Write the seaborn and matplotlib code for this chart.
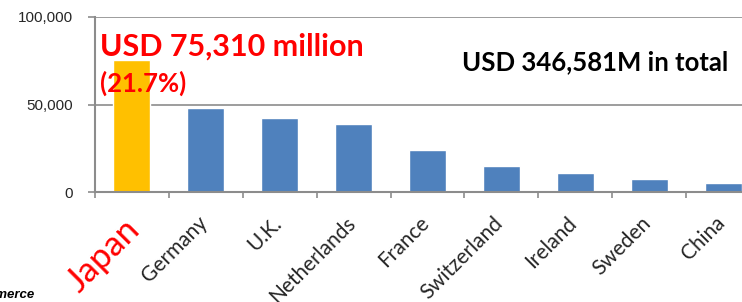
import matplotlib
matplotlib.use("Agg")
import matplotlib.pyplot as plt
import matplotlib.transforms as mtransforms
import pandas as pd
import seaborn as sns

countries = ["Japan", "Germany", "U.K.", "Netherlands", "France",
             "Switzerland", "Ireland", "Sweden", "China"]
values = [75310, 48100, 42300, 38800, 24200, 14900, 10700, 7200, 4900]
bar_colors = ["#FFC000"] + ["#4F81BD"] * 8
y_ticks = [0, 50000, 100000]
y_tick_labels = ["0", "50,000", "100,000"]

df = pd.DataFrame({"country": countries, "value": values})

sns.set_theme(style="white")
plt.rcParams["font.family"] = ["Lato", "DejaVu Sans"]

fig = plt.figure(figsize=(7.42, 3.02), dpi=100)
# axes runs past the right edge like the original screenshot
ax = fig.add_axes([95 / 742, 1 - 192 / 302, 665 / 742, 175 / 302])

sns.barplot(data=df, x="country", y="value", hue="country",
            palette=bar_colors, width=0.5, legend=False, ax=ax, saturation=1)

ax.set_ylim(0, 100000)
ax.set_xlim(-0.5, len(countries) - 0.5)
ax.set_yticks(y_ticks)
ax.set_yticklabels(y_tick_labels, fontsize=11, family=["Liberation Sans", "DejaVu Sans"])
ax.yaxis.grid(True, color="#8c8c8c", linewidth=1.2)
ax.set_axisbelow(True)
ax.set_xlabel("")
ax.set_ylabel("")

for s in ["top", "right"]:
    ax.spines[s].set_visible(False)
for s in ["left", "bottom"]:
    ax.spines[s].set_color("#8c8c8c")
    ax.spines[s].set_linewidth(1.5)

ax.tick_params(axis="y", left=True, length=5, color="#8c8c8c", width=1.2, pad=11)
# category boundary ticks on the x axis
ax.set_xticks([i - 0.5 for i in range(len(countries))], minor=True)
ax.tick_params(axis="x", which="minor", bottom=True, length=4, color="#8c8c8c", width=1.2)
ax.tick_params(axis="x", which="major", bottom=False, pad=4)

ax.set_xticks(range(len(countries)))
ax.set_xticklabels(countries, rotation=45, ha="right", va="top", rotation_mode="anchor")
offset = mtransforms.ScaledTranslation(-6 / 72, -5 / 72, fig.dpi_scale_trans)
for i, lbl in enumerate(ax.get_xticklabels()):
    lbl.set_transform(lbl.get_transform() + offset)
    if i == 0:
        lbl.set_color("red")
        lbl.set_fontsize(25)
    else:
        lbl.set_fontsize(15)

fig.text(100 / 742, 1 - 56 / 302, "USD 75,310 million", color="red",
         fontsize=22, fontweight="bold", ha="left", va="baseline")
fig.text(100 / 742, 1 - 92 / 302, "(21.7%)", color="red",
         fontsize=18.5, fontweight="bold", ha="left", va="baseline")
fig.text(462 / 742, 1 - 70 / 302, "USD 346,581M in total", color="black",
         fontsize=18.5, fontweight="bold", ha="left", va="baseline")
fig.text(34 / 742, 1 - 298 / 302, "Source: U.S. Department of Commerce", color="black",
         fontsize=9.5, fontweight="bold", style="italic", ha="right", va="baseline",
         family=["Liberation Sans", "DejaVu Sans"])

fig.savefig("out.png", dpi=100)
